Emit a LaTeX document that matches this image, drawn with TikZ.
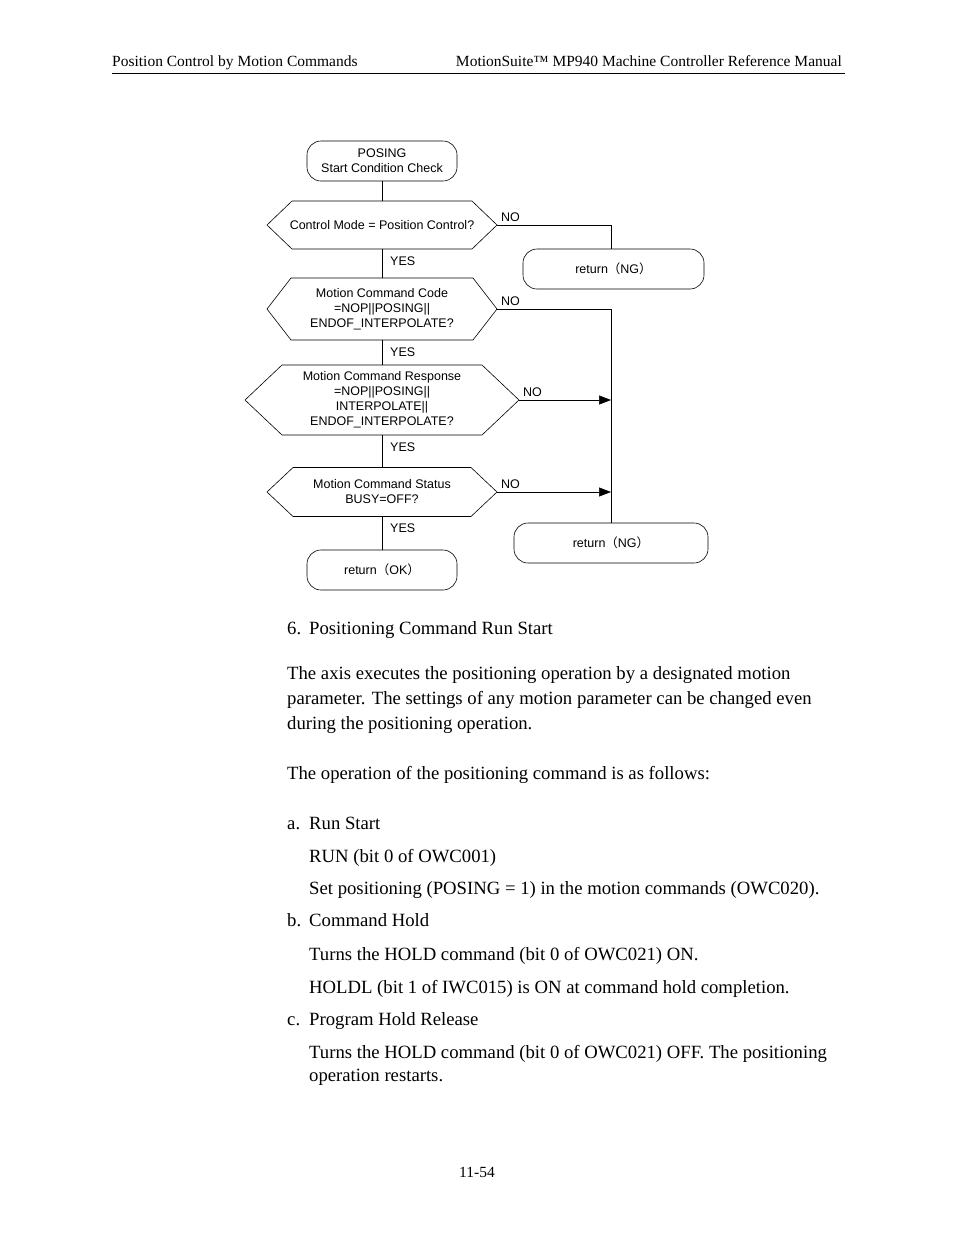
\documentclass[tikz,border=0pt]{standalone}
\usepackage{fontspec}
\setmainfont{Liberation Serif}
\setsansfont{Liberation Sans}
\newfontfamily\cjk{Noto Sans CJK JP}
\usepackage{tikz}
\usetikzlibrary{calc,positioning,arrows.meta}

\newcommand{\fpar}[1]{{\cjk #1}}

\begin{document}
\begin{tikzpicture}[x=1pt,y=-1pt,
  chart/.style={font=\sffamily\fontsize{12.5}{15}\selectfont, align=center, inner sep=0pt, outer sep=0pt},
  term/.style={chart, draw, line width=0.6pt, rounded corners=14pt, minimum height=40pt},
  hexnode/.style={chart, minimum width=230pt},
  lbl/.style={font=\sffamily\fontsize{12.5}{14}\selectfont, inner sep=0pt},
  body/.style={font=\fontsize{18.7}{25}\selectfont, inner sep=0pt, anchor=base west},
  page/.style={font=\fontsize{15.5}{17}\selectfont, inner sep=0pt},
  flow/.style={line width=0.6pt},
  go/.style={flow, -{Triangle[length=12pt,width=9pt]}}]
\useasboundingbox (0,0) rectangle (954,1235);

% page header
\node[page, anchor=base west] (hleft) at (112,66) {Position Control by Motion Commands};
\node[page, anchor=base east] (hright) at (842,66) {MotionSuite™ MP940 Machine Controller Reference Manual};
\draw[line width=0.8pt] (112,73) -- (845,73);

% terminals
\node[term, minimum width=150pt] (start) at (382,161) {POSING\\Start Condition Check};
\node[term, minimum width=181pt] (ng1) at (613.5,269) {return\fpar{（}NG\fpar{）}};
\node[term, minimum width=194pt] (ng2) at (611,543) {return\fpar{（}NG\fpar{）}};
\node[term, minimum width=150pt] (ok) at (382,570) {return\fpar{（}OK\fpar{）}};
\coordinate (ng1in) at ([xshift=-2.5pt]ng1.north);

% decisions
\node[hexnode, minimum height=48pt] (q1) at (382,225) {Control Mode = Position Control?};
\node[hexnode, minimum height=62pt] (q2) at (382,309) {Motion Command Code\\=NOP||POSING||\\ENDOF\_INTERPOLATE?};
\node[hexnode, minimum height=70pt, minimum width=274pt] (q3) at (382,400) {Motion Command Response\\=NOP||POSING||\\INTERPOLATE||\\ENDOF\_INTERPOLATE?};
\node[hexnode, minimum height=49pt] (q4) at (382,492) {Motion Command Status\\BUSY=OFF?};
\foreach \n/\d in {q1/25, q2/24, q3/37, q4/26}{
  \draw[flow] (\n.west) -- ([xshift=\d pt]\n.north west) -- ([xshift=-\d pt]\n.north east)
    -- (\n.east) -- ([xshift=-\d pt]\n.south east) -- ([xshift=\d pt]\n.south west) -- cycle;
}

% main line
\draw[flow] (start) -- (q1);
\draw[flow] (q1) -- (q2);
\draw[flow] (q2) -- (q3);
\draw[flow] (q3) -- (q4);
\draw[flow] (q4) -- (ok);
\foreach \n in {q1,q2,q3,q4}{
  \node[lbl, anchor=west] (yes-\n) at ([xshift=8pt,yshift=-12pt]\n.south) {YES};
  \node[lbl, anchor=south west] (no-\n) at ([xshift=4pt,yshift=3pt]\n.east) {NO};
}

% NO branches
\draw[flow] (q1.east) -| (ng1in);
\draw[flow] (q2.east) -| (ng2.north);
\draw[go] (q3.east) -- (q3.east -| ng2.north);
\draw[go] (q4.east) -- (q4.east -| ng2.north);

% body text
\node[body] (n6) at (287,634) {6.};
\node[body] (h6) at (309,634) {Positioning Command Run Start};
\node[body] (p1a) at (287,679) {The axis executes the positioning operation by a designated motion};
\node[body] (p1b) at (287,704) {parameter. The settings of any motion parameter can be changed even};
\node[body] (p1c) at (287,729) {during the positioning operation.};
\node[body] (p2) at (287,779) {The operation of the positioning command is as follows:};
\node[body] (na) at (287,829) {a.};
\node[body] (ha) at (309,829) {Run Start};
\node[body] (a1) at (309,862) {RUN (bit 0 of OWC001)};
\node[body] (a2) at (309,894) {Set positioning (POSING = 1) in the motion commands (OWC020).};
\node[body] (nb) at (287,926) {b.};
\node[body] (hb) at (309,926) {Command Hold};
\node[body] (b1) at (309,960) {Turns the HOLD command (bit 0 of OWC021) ON.};
\node[body] (b2) at (309,993) {HOLDL (bit 1 of IWC015) is ON at command hold completion.};
\node[body] (nc) at (287,1025) {c.};
\node[body] (hc) at (309,1025) {Program Hold Release};
\node[body] (c1a) at (309,1058) {Turns the HOLD command (bit 0 of OWC021) OFF. The positioning};
\node[body] (c1b) at (309,1081) {operation restarts.};

% page number
\node[page, anchor=base] (pno) at (477,1177) {11-54};
\end{tikzpicture}
\end{document}
